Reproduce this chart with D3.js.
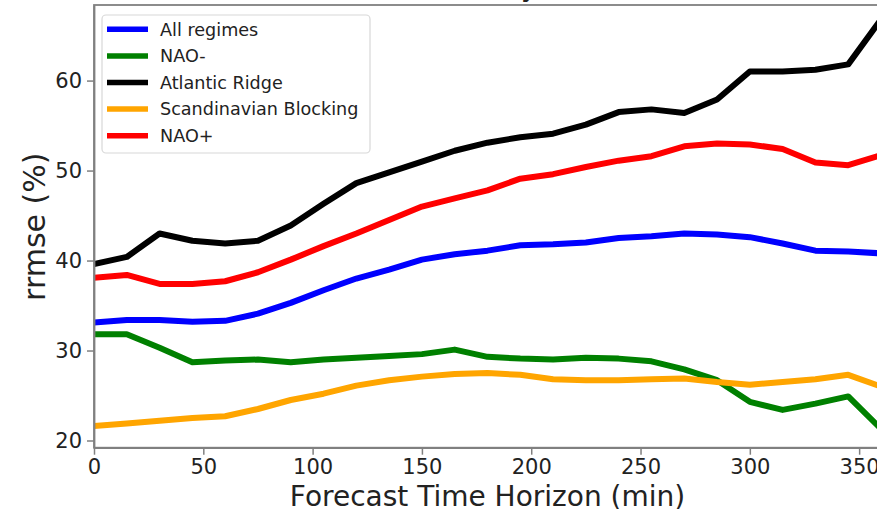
<!DOCTYPE html>
<html>
<head>
<meta charset="utf-8">
<script src="https://cdn.jsdelivr.net/npm/d3@7"></script>
<style>
  html, body { margin: 0; padding: 0; background: #fff; }
  svg { display: block; font-family: "DejaVu Sans", sans-serif; }
</style>
</head>
<body>
<svg id="chart" width="877" height="509"></svg>
<script>
// Forecast horizon in minutes
const horizons = [0, 15, 30, 45, 60, 75, 90, 105, 120, 135, 150, 165, 180,
                  195, 210, 225, 240, 255, 270, 285, 300, 315, 330, 345, 360];

// rrmse (%) per weather regime
const allRegimes = [33.1, 33.4, 33.4, 33.2, 33.3, 34.1, 35.3, 36.7, 38.0, 39.0, 40.1, 40.7, 41.1,
                    41.7, 41.8, 42.0, 42.5, 42.7, 43.0, 42.9, 42.6, 41.9, 41.1, 41.0, 40.8];
const naoMinus   = [31.8, 31.8, 30.3, 28.7, 28.9, 29.0, 28.7, 29.0, 29.2, 29.4, 29.6, 30.1, 29.3,
                    29.1, 29.0, 29.2, 29.1, 28.8, 27.9, 26.7, 24.3, 23.4, 24.1, 24.9, 21.3];
const atlRidge   = [39.6, 40.4, 43.0, 42.2, 41.9, 42.2, 43.9, 46.3, 48.6, 49.8, 51.0, 52.2, 53.1,
                    53.7, 54.1, 55.1, 56.5, 56.8, 56.4, 57.9, 61.0, 61.0, 61.2, 61.8, 66.8];
const scandBlock = [21.6, 21.9, 22.2, 22.5, 22.7, 23.5, 24.5, 25.2, 26.1, 26.7, 27.1, 27.4, 27.5,
                    27.3, 26.8, 26.7, 26.7, 26.8, 26.9, 26.5, 26.2, 26.5, 26.8, 27.3, 26.0];
const naoPlus    = [38.1, 38.4, 37.4, 37.4, 37.7, 38.7, 40.1, 41.6, 43.0, 44.5, 46.0, 46.9, 47.8,
                    49.1, 49.6, 50.4, 51.1, 51.6, 52.7, 53.0, 52.9, 52.4, 50.9, 50.6, 51.7];

const seriesNames  = ["All regimes", "NAO-", "Atlantic Ridge", "Scandinavian Blocking", "NAO+"];
const seriesValues = [allRegimes, naoMinus, atlRidge, scandBlock, naoPlus];
const seriesColors = ["#0000ff", "#008000", "#000000", "#ffa500", "#ff0000"];

const xTicks = [0, 50, 100, 150, 200, 250, 300, 350];
const yTicks = [20, 30, 40, 50, 60];

const svg = d3.select("#chart");
const plot = { left: 94, right: 881, top: 5, bottom: 447.7 };

const x = d3.scaleLinear().domain([0, 360]).range([plot.left, plot.right]);
const y = d3.scaleLinear().domain([19.2, 68.4]).range([plot.bottom, plot.top]);

const spineColor = "#808080";

// Title above the axes (mostly outside the visible area)
svg.append("text")
  .attr("x", 420).attr("y", -3.8)
  .attr("font-size", 28).attr("fill", "#222")
  .text("rrmse (y)");

svg.append("defs").append("clipPath").attr("id", "plotClip")
  .append("rect")
  .attr("x", plot.left).attr("y", plot.top)
  .attr("width", plot.right - plot.left).attr("height", plot.bottom - plot.top);

// Lines
const line = d3.line()
  .x((d, i) => x(horizons[i]))
  .y(d => y(d));

const lineG = svg.append("g").attr("clip-path", "url(#plotClip)");
seriesValues.forEach((vals, k) => {
  lineG.append("path")
    .datum(vals)
    .attr("d", line)
    .attr("fill", "none")
    .attr("stroke", seriesColors[k])
    .attr("stroke-width", 6)
    .attr("stroke-linejoin", "round")
    .attr("stroke-linecap", "butt");
});

// Axes frame
svg.append("rect")
  .attr("x", plot.left).attr("y", plot.top)
  .attr("width", plot.right - plot.left).attr("height", plot.bottom - plot.top)
  .attr("fill", "none").attr("stroke", spineColor).attr("stroke-width", 1.8);

const xAxis = svg.append("g")
  .attr("transform", `translate(0,${plot.bottom})`)
  .call(d3.axisBottom(x).tickValues(xTicks).tickSize(7).tickSizeOuter(0).tickPadding(4.9));
const yAxis = svg.append("g")
  .attr("transform", `translate(${plot.left},0)`)
  .call(d3.axisLeft(y).tickValues(yTicks).tickSize(7).tickSizeOuter(0).tickPadding(5));

[xAxis, yAxis].forEach(g => {
  g.select(".domain").attr("stroke", spineColor).attr("stroke-width", 1.8);
  g.selectAll(".tick line").attr("stroke", spineColor).attr("stroke-width", 1.5);
  g.selectAll(".tick text")
    .attr("font-size", 21)
    .attr("font-family", "DejaVu Sans, sans-serif")
    .attr("fill", "#222");
});

// Axis labels
svg.append("text")
  .attr("x", (plot.left + plot.right) / 2).attr("y", 505.5)
  .attr("text-anchor", "middle")
  .attr("font-size", 28).attr("fill", "#222")
  .text("Forecast Time Horizon (min)");

svg.append("text")
  .attr("transform", "translate(44.5,226.7) rotate(-90)")
  .attr("text-anchor", "middle")
  .attr("font-size", 30).attr("fill", "#222")
  .text("rrmse (%)");

// Legend
const legend = svg.append("g");
legend.append("rect")
  .attr("x", 102).attr("y", 15).attr("width", 268).attr("height", 138)
  .attr("rx", 4).attr("ry", 4)
  .attr("fill", "#fff").attr("fill-opacity", 0.8)
  .attr("stroke", "#d8d8d8").attr("stroke-width", 1.2);

seriesNames.forEach((name, k) => {
  const rowY = 29.3 + k * 26.6;
  legend.append("line")
    .attr("x1", 107).attr("x2", 148)
    .attr("y1", rowY).attr("y2", rowY)
    .attr("stroke", seriesColors[k]).attr("stroke-width", 5.5);
  legend.append("text")
    .attr("x", 160).attr("y", rowY + 6.2)
    .attr("font-size", 17.6).attr("fill", "#222")
    .text(name);
});
</script>
</body>
</html>
